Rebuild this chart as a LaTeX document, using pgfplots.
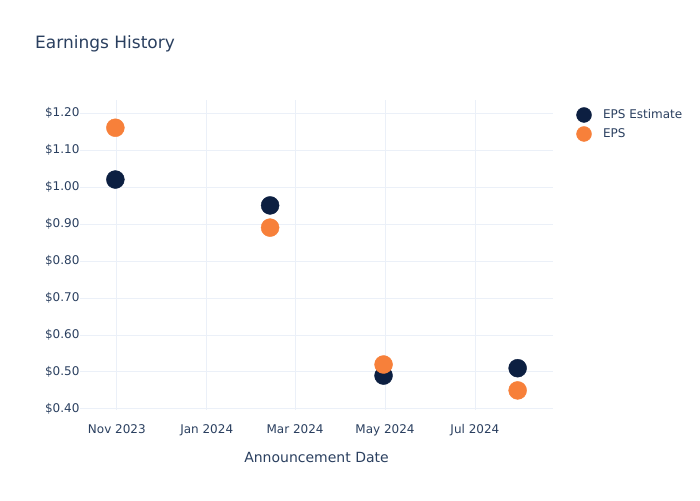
\documentclass[border=0pt]{standalone}
\usepackage{pgfplots}
\pgfplotsset{compat=1.18}
\usepackage{fontspec}
\setmainfont{DejaVu Sans}
\definecolor{txt}{HTML}{2A3F5F}
\definecolor{gridc}{HTML}{EBF0F8}
\definecolor{navy}{HTML}{0C1F41}
\definecolor{orng}{HTML}{F7803A}
\begin{document}
\begin{tikzpicture}[x=1pt,y=1pt]
\useasboundingbox (0,0) rectangle (700,500);
\node[anchor=west, font=\fontsize{17}{20}\selectfont, text=txt, inner sep=0pt] at (35,456) {Earnings History};
\begin{axis}[
  at={(80pt,90pt)}, anchor=south west,
  width=473pt, height=310pt, scale only axis,
  xmin=-25, xmax=296, ymin=0.397, ymax=1.235,
  axis line style={draw=none},
  tick style={draw=none},
  grid=major, major grid style={gridc, line width=0.8pt},
  xtick={0,61,121,182,243},
  xticklabels={Nov 2023,Jan 2024,Mar 2024,May 2024,Jul 2024},
  ytick={0.4,0.5,0.6,0.7,0.8,0.9,1.0,1.1,1.2},
  yticklabels={\$0.40,\$0.50,\$0.60,\$0.70,\$0.80,\$0.90,\$1.00,\$1.10,\$1.20},
  /pgf/number format/assume math mode=true,
  ticklabel style={font=\fontsize{12}{14}\selectfont, text=txt},
  xticklabel style={yshift=-11pt},
  yticklabel style={xshift=3pt},
  xlabel={Announcement Date},
  xlabel style={font=\fontsize{14}{16}\selectfont, text=txt, yshift=-9pt},
  clip=false,
  legend style={at={(1.025,0.983)}, anchor=north west, draw=none, fill=none,
    font=\fontsize{12}{14}\selectfont, text=txt, row sep=4pt,
    legend cell align=left},
  legend image code/.code={\path[draw=none,fill=none] (0pt,0pt) -- (33pt,0pt); \draw[#1, mark size=7.5pt] plot coordinates {(16pt,0pt)};},
]
\addplot[only marks, mark=*, mark size=9pt, color=navy] coordinates {
  (-1,1.02) (104,0.95) (181,0.49) (272,0.51)};
\addlegendentry{EPS Estimate}
\addplot[only marks, mark=*, mark size=9pt, color=orng] coordinates {
  (-1,1.16) (104,0.89) (181,0.52) (272,0.45)};
\addlegendentry{EPS}
\end{axis}
\end{tikzpicture}
\end{document}
